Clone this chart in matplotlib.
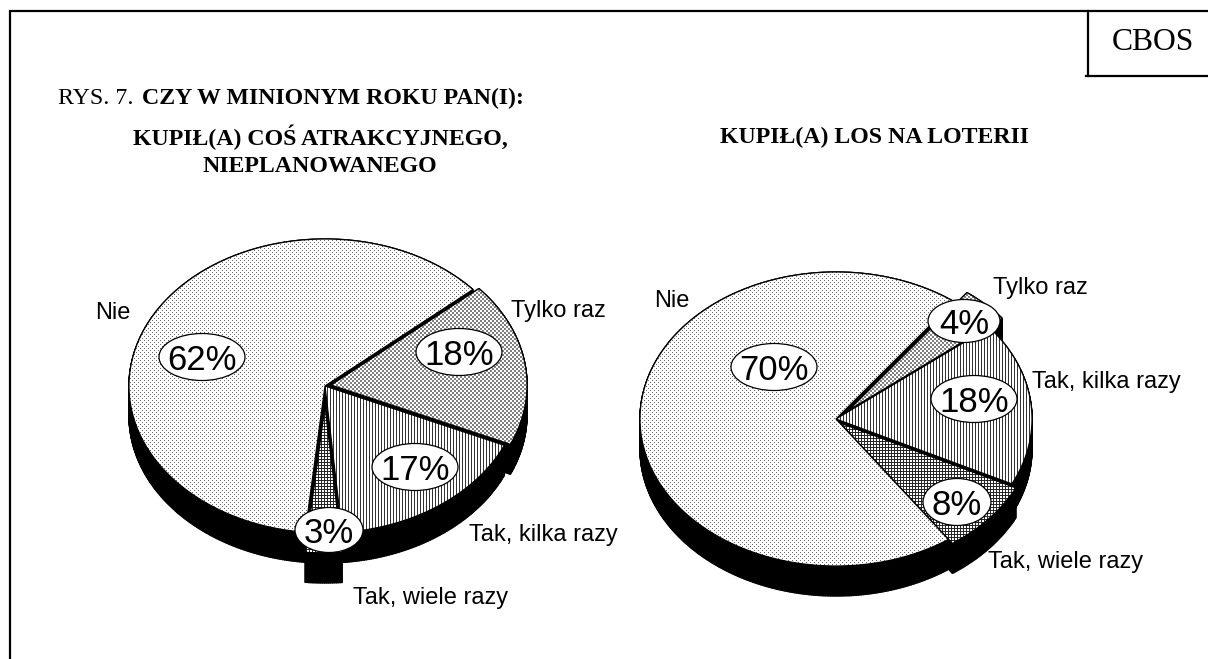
import numpy as np
import matplotlib
matplotlib.use("Agg")
import matplotlib.pyplot as plt
from matplotlib.patches import Ellipse, Polygon

# ----------------------------
# 1) DATA
# ----------------------------
title_main = "CZY W MINIONYM ROKU PAN(I):"
title_prefix = "RYS. 7. "
left_title = ["KUPIŁ(A) COŚ ATRAKCYJNEGO,", "NIEPLANOWANEGO"]
right_title = ["KUPIŁ(A) LOS NA LOTERII"]

categories = ["Tylko raz", "Tak, kilka razy", "Tak, wiele razy", "Nie"]
left_values = [18, 17, 3, 62]
right_values = [4, 18, 8, 70]

# ----------------------------
# 2) LAYOUT (pixels of the 1208x659 picture)
# ----------------------------
W, H = 1208, 659
RX, RY, DEPTH = 196, 147, 30
SERIF = "Liberation Serif"
SANS = "Liberation Sans"

left_pie = dict(cx=325, cy=386, start=49,
                shifts=[(6, -1), (0, 0), (0, 20), (0, 0)],
                bubbles=[(459, 352, 86, 47), (415, 467, 86, 47), (329, 530, 68, 45), (202, 357, 86, 47)],
                labels=[(511, 311), (469, 535), (353, 598), (95, 313)])
right_pie = dict(cx=836, cy=419, start=37,
                 shifts=[(13, -9), (0, 0), (4, 4), (0, 0)],
                 bubbles=[(964, 321, 72, 43), (974, 399, 86, 47), (957, 502, 68, 47), (774, 367, 86, 47)],
                 labels=[(993, 288), (1032, 382), (988, 562), (654, 301)])

# fill patterns, one small tile per category (grey levels)
dots = np.ones((4, 4))
dots[0, 0] = dots[2, 2] = 0.4
check = np.array([[0.5, 0.5, 1, 1], [0.5, 0.5, 1, 1], [1, 1, 0.5, 0.5], [1, 1, 0.5, 0.5]])
stripes = np.array([[0.2, 1, 1]])
grid = np.array([[0.15, 0.15, 0.15], [0.15, 1, 1], [0.15, 1, 1]])
tiles = [check, stripes, grid, dots]

# ----------------------------
# 3) HELPERS
# ----------------------------
fig = plt.figure(figsize=(W / 100, H / 100), dpi=100)
ax = fig.add_axes([0, 0, 1, 1])
ax.set_xlim(0, W)
ax.set_ylim(H, 0)
ax.axis("off")

z = [1]
def next_z():
    z[0] += 1
    return z[0]

def wedge_points(cx, cy, a0, a1):
    t = np.radians(np.linspace(a0, a1, max(int(abs(a1 - a0)) * 2, 8)))
    x = cx + RX * np.sin(t)
    y = cy - RY * np.cos(t)
    return np.concatenate([[cx], x]), np.concatenate([[cy], y])

def draw_side(x, y):
    n = len(x)
    for i in range(n):
        j = (i + 1) % n
        quad = [(x[i], y[i]), (x[j], y[j]), (x[j], y[j] + DEPTH), (x[i], y[i] + DEPTH)]
        ax.add_patch(Polygon(quad, closed=True, fc="black", ec="black", lw=1.0, zorder=z[0]))
    next_z()

def draw_top(x, y, tile):
    poly = Polygon(np.column_stack([x, y]), closed=True, fc="none", ec="none", transform=ax.transData)
    ax.add_patch(poly)
    nrow = H // tile.shape[0] + 1
    ncol = W // tile.shape[1] + 1
    img = np.tile(tile, (nrow, ncol))[:H, :W]
    im = ax.imshow(img, cmap="gray", vmin=0, vmax=1, extent=(0, W, H, 0), aspect="auto",
                   interpolation="nearest", zorder=next_z())
    im.set_clip_path(poly)
    ax.add_patch(Polygon(np.column_stack([x, y]), closed=True, fc="none", ec="black", lw=0.9, zorder=next_z()))

def draw_pie(pie, values):
    cx, cy = pie["cx"], pie["cy"]
    edges = pie["start"] + np.cumsum([0] + values) * 3.6
    parts = []
    for i, (dx, dy) in enumerate(pie["shifts"]):
        parts.append(wedge_points(cx + dx, cy + dy, edges[i], edges[i + 1]))
    # the big slice goes under everything for its side, over everything for its top
    draw_side(*parts[3])
    for i in range(3):
        draw_side(*parts[i])
        draw_top(parts[i][0], parts[i][1], tiles[i])
    draw_top(parts[3][0], parts[3][1], tiles[3])

    for val, (bx, by, bw, bh) in zip(values, pie["bubbles"]):
        zz = next_z()
        ax.add_patch(Ellipse((bx, by), bw, bh, fc="white", ec="black", lw=0.9, zorder=zz))
        ax.text(bx, by, f"{val}%", family=SANS, fontsize=25, ha="center", va="center_baseline", zorder=next_z())
    for cat, (tx, ty) in zip(categories, pie["labels"]):
        ax.text(tx, ty, cat, family=SANS, fontsize=17, ha="left", va="center", zorder=next_z())

# ----------------------------
# 4) DRAW
# ----------------------------
draw_pie(left_pie, left_values)
draw_pie(right_pie, right_values)

# frame and CBOS box
frame_lw = 1.6
ax.plot([10, 10, W], [H, 11, 11], color="black", lw=frame_lw, solid_joinstyle="miter", zorder=1000)
ax.plot([1088, 1088], [11, 76], color="black", lw=frame_lw, zorder=1000)
ax.plot([1086, W], [76, 76], color="black", lw=frame_lw, zorder=1000)
ax.text(1153, 43, "CBOS", family=SERIF, fontsize=22.8, ha="center", va="center", zorder=1000)

# headings
t1 = ax.text(58, 98, title_prefix, family=SERIF, fontsize=17.2, ha="left", va="center", zorder=1000)
fig.canvas.draw()
bb = t1.get_window_extent().transformed(ax.transData.inverted())
ax.text(bb.x1 + 2, 98, title_main, family=SERIF, fontsize=17.2, weight="bold", ha="left", va="center", zorder=1000)
ax.text(320, 137, left_title[0], family=SERIF, fontsize=17.2, weight="bold", ha="center", va="center", zorder=1000)
ax.text(320, 167, left_title[1], family=SERIF, fontsize=17.2, weight="bold", ha="center", va="center", zorder=1000)
ax.text(874, 137, right_title[0], family=SERIF, fontsize=17.2, weight="bold", ha="center", va="center", zorder=1000)

fig.savefig("out.png", dpi=100)
